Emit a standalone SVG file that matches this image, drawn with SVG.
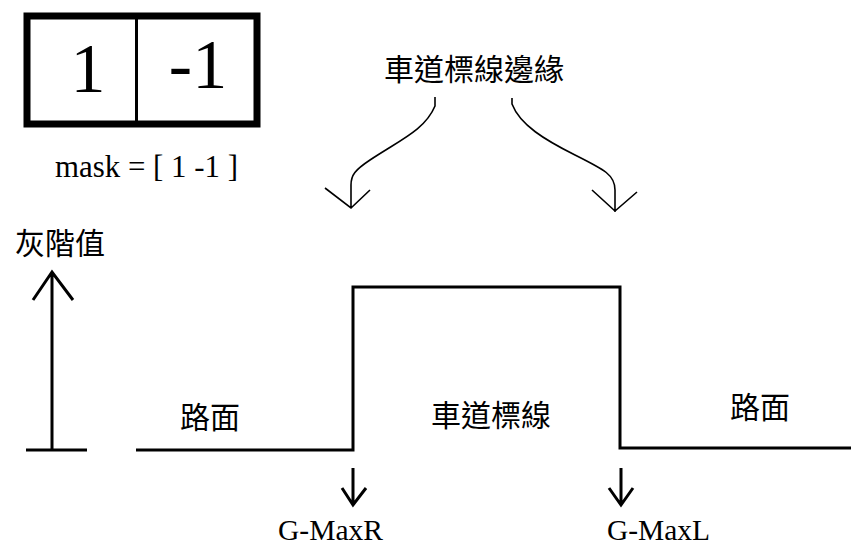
<svg xmlns="http://www.w3.org/2000/svg" width="851" height="547" viewBox="0 0 851 547">
<style>
.serif{font-family:"Liberation Serif","Times New Roman",serif;fill:#000}
.cjk{font-family:"Noto Sans CJK TC","Noto Sans CJK SC",sans-serif;fill:#000;font-size:30px}
.thick{fill:none;stroke:#000;stroke-width:3}
.thin{fill:none;stroke:#000;stroke-width:1.6}
</style>
<rect width="851" height="547" fill="#fff"/>
<g id="mask">
<rect x="27" y="16" width="230" height="108" fill="none" stroke="#000" stroke-width="7"/>
<line x1="136.5" y1="16" x2="136.5" y2="124" stroke="#000" stroke-width="3"/>
<text class="serif" x="88" y="92" font-size="70" text-anchor="middle">1</text>
<text class="serif" x="198" y="88" font-size="70" text-anchor="middle">-1</text>
<text class="serif" x="55" y="177" font-size="31" textLength="183" lengthAdjust="spacingAndGlyphs">mask = [ 1 -1 ]</text>
</g>
<g id="title">
<text class="cjk" x="474" y="80" text-anchor="middle" font-size="32">車道標線邊緣</text>
</g>
<g id="axis">
<text class="cjk" x="60" y="254" text-anchor="middle" font-size="32">灰階值</text>
<path class="thick" d="M52 272 V450 M26 450 H87 M33 300 L52 272 L73 300"/>
</g>
<g id="signal">
<path class="thick" d="M136 450 H353 V287 H620 V448 H851"/>
</g>
<g id="road-left"><text class="cjk" x="210" y="428" text-anchor="middle">路面</text></g>
<g id="lane-mark"><text class="cjk" x="491" y="426" text-anchor="middle" font-size="31">車道標線</text></g>
<g id="road-right"><text class="cjk" x="760" y="418" text-anchor="middle" font-size="31">路面</text></g>
<g id="gmaxr"><text class="serif" x="278" y="540" font-size="30" textLength="105" lengthAdjust="spacingAndGlyphs">G-MaxR</text></g>
<g id="gmaxl"><text class="serif" x="607" y="540" font-size="30" textLength="103" lengthAdjust="spacingAndGlyphs">G-MaxL</text></g>
<g id="connectors">
<path class="thin" d="M435 97 V106 C425 130 400 140 370 160 C355 170 351 175 351 185 V208 M325 188 L351 208 L370 190"/>
<path class="thin" d="M512 98 V104 C520 125 545 140 575 155 C605 170 615 175 615 190 V212 M592 190 L615 211 L637 192"/>
<path class="thick" d="M353 468 V505 M342 488 L353 505 L366 488"/>
<path class="thick" d="M621 468 V505 M609 488 L621 505 L633 488"/>
</g>
</svg>
